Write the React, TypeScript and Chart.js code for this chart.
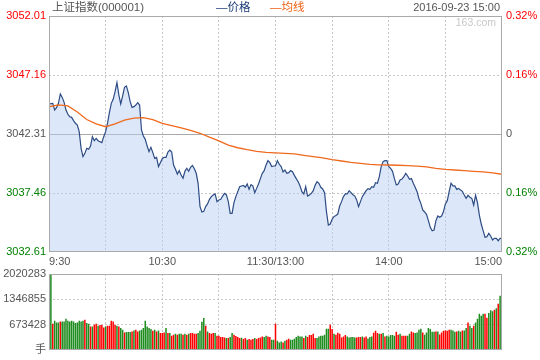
import React, { useEffect, useRef } from 'react';
import { Chart, registerables } from 'chart.js';

Chart.register(...registerables);

// ---------- data ----------
const TITLE = '上证指数(000001)';
const DATE_TEXT = '2016-09-23 15:00';
const PREV_CLOSE = 3042.31;
const PRICE_TICKS = [3032.61, 3037.46, 3042.31, 3047.16, 3052.01];
const PCT_TICKS = [-0.32, -0.16, 0, 0.16, 0.32];
const PCT_LABELS = ['0.32%', '0.16%', '0', '0.16%', '0.32%'];
const VOL_TICKS = [0, 673428, 1346855, 2020283];
const VOL_LABELS = ['手', '673428', '1346855', '2020283'];
const TIME_TICKS = [0, 30, 60, 90, 120, 150, 180, 210, 240];
const TIME_LABELS = ['9:30', '', '10:30', '', '11:30/13:00', '', '14:00', '', '15:00'];

// one value per minute, 9:30 .. 11:30 then 13:01 .. 15:00 (241 points)
const PRICES = [
  3044.78, 3044.80, 3044.83, 3044.28, 3044.47, 3044.83, 3045.60, 3045.32, 3044.91, 3044.28,
  3043.93, 3043.73, 3043.68, 3043.41, 3043.19, 3043.05, 3042.50, 3041.13, 3040.45, 3040.72,
  3041.13, 3041.05, 3041.32, 3042.09, 3041.76, 3041.95, 3041.76, 3041.68, 3041.60, 3042.09,
  3042.50, 3043.19, 3044.06, 3044.83, 3045.16, 3045.79, 3046.53, 3045.52, 3044.78, 3045.43,
  3046.15, 3046.26, 3045.71, 3044.97, 3044.50, 3044.56, 3044.69, 3044.89, 3044.69, 3042.64,
  3042.15, 3041.87, 3041.32, 3040.86, 3041.21, 3040.78, 3040.31, 3040.39, 3039.63, 3039.95,
  3040.28, 3040.39, 3040.39, 3040.83, 3040.99, 3040.83, 3039.76, 3039.41, 3039.02, 3039.30,
  3038.94, 3038.67, 3039.24, 3039.49, 3039.24, 3039.57, 3039.73, 3039.46, 3039.08, 3038.26,
  3036.34, 3035.90, 3035.95, 3036.34, 3036.56, 3036.94, 3037.16, 3037.30, 3037.38, 3036.75,
  3036.89, 3036.94, 3037.21, 3037.43, 3037.30, 3036.75, 3035.79, 3035.79, 3036.67, 3037.16,
  3037.57, 3037.98, 3038.04, 3038.09, 3037.93, 3038.20, 3037.76, 3038.15, 3038.04, 3037.49,
  3037.84, 3038.20, 3038.64, 3039.08, 3039.30, 3039.76, 3040.12, 3039.95, 3039.63, 3039.68,
  3039.68, 3040.12, 3039.82, 3039.63, 3039.19, 3039.35, 3039.08, 3039.13, 3039.30, 3039.21,
  3038.91, 3038.64, 3038.39, 3038.04, 3037.57, 3037.38, 3037.98, 3037.21, 3037.30, 3037.43,
  3037.65, 3038.09, 3038.39, 3038.26, 3037.93, 3037.79, 3037.49, 3035.93, 3034.83, 3034.91,
  3035.30, 3035.52, 3035.62, 3035.73, 3036.39, 3036.75, 3037.16, 3037.38, 3037.38, 3037.65,
  3037.49, 3037.32, 3037.21, 3036.89, 3036.34, 3036.75, 3037.16, 3037.41, 3037.65, 3037.82,
  3037.76, 3037.98, 3037.93, 3038.31, 3038.26, 3038.80, 3039.63, 3040.04, 3040.12, 3040.12,
  3039.63, 3039.49, 3039.24, 3038.64, 3038.12, 3038.20, 3038.53, 3038.61, 3038.80, 3039.08,
  3038.86, 3038.58, 3038.64, 3038.26, 3037.93, 3037.57, 3036.99, 3036.61, 3036.06, 3035.90,
  3035.71, 3035.19, 3034.64, 3034.36, 3034.42, 3035.19, 3035.57, 3035.46, 3035.57, 3035.93,
  3036.56, 3036.83, 3037.57, 3038.26, 3038.04, 3038.04, 3037.76, 3037.84, 3037.71, 3037.60,
  3037.30, 3037.02, 3037.27, 3037.10, 3037.02, 3036.47, 3037.27, 3036.67, 3035.65, 3034.91,
  3034.36, 3033.82, 3033.87, 3034.15, 3033.93, 3033.60, 3033.73, 3033.73, 3033.54, 3033.73,
  3033.73,
];

const AVG_MINUTES = [
  0, 5, 10, 15, 20, 25, 30, 35, 40, 45, 50, 55, 60, 65, 70, 75, 80, 85, 90, 95, 100, 105, 110, 115, 120,
  125, 130, 135, 140, 145, 150, 155, 160, 165, 170, 175, 180, 185, 190, 195, 200, 205, 210, 215, 220, 225, 230, 235, 240,
];
const AVG_PRICES = [
  3044.55, 3044.70, 3044.62, 3044.12, 3043.50, 3043.15, 3042.91, 3043.15, 3043.45, 3043.62, 3043.66, 3043.50, 3043.19,
  3043.00, 3042.82, 3042.60, 3042.37, 3042.05, 3041.75, 3041.40, 3041.18, 3041.02, 3040.88, 3040.80, 3040.76,
  3040.72, 3040.67, 3040.56, 3040.45, 3040.34, 3040.20, 3040.09, 3039.98, 3039.90, 3039.82, 3039.78, 3039.76, 3039.74,
  3039.71, 3039.67, 3039.60, 3039.49, 3039.40, 3039.35, 3039.30, 3039.24, 3039.19, 3039.11, 3039.00,
];

const VOLUMES = [
  608700, 2020283, 705800, 785200, 741000, 741000, 767500, 767500, 767500, 838100,
  785200, 767500, 785200, 767500, 723400, 741000, 785200, 767500, 785200, 811600,
  723400, 705800, 635200, 635200, 679300, 705800, 652800, 670500, 670500, 608700,
  635200, 652800, 652800, 785200, 767500, 679300, 652800, 635200, 591100, 547000,
  476400, 485200, 485200, 485200, 502900, 529300, 547000, 502900, 529300, 547000,
  591100, 785200, 635200, 591100, 564600, 520500, 547000, 502900, 529300, 458700,
  458700, 476400, 591100, 458700, 458700, 388200, 414600, 441100, 414600, 441100,
  441100, 414600, 441100, 414600, 441100, 458700, 458700, 441100, 441100, 458700,
  520500, 758700, 855700, 652800, 502900, 458700, 441100, 458700, 458700, 388200,
  388200, 352900, 352900, 344100, 326400, 326400, 352900, 458700, 414600, 379300,
  352900, 326400, 335200, 300000, 326400, 282300, 300000, 282300, 300000, 326400,
  300000, 326400, 344100, 370500, 352900, 388200, 370500, 352900, 282300, 282300,
  705800, 255800, 211700, 238200, 211700, 255800, 282300, 308800, 282300, 282300,
  308800, 352900, 388200, 370500, 370500, 326400, 388200, 352900, 405800, 405800,
  441100, 326400, 326400, 370500, 388200, 388200, 414600, 573400, 573400, 679300,
  564600, 441100, 414600, 467600, 441100, 344100, 370500, 405800, 370500, 344100,
  352900, 352900, 344100, 344100, 352900, 352900, 370500, 344100, 370500, 317600,
  352900, 370500, 467600, 520500, 458700, 441100, 441100, 458700, 370500, 388200,
  370500, 405800, 405800, 388200, 494000, 414600, 441100, 388200, 388200, 388200,
  388200, 441100, 502900, 476400, 458700, 476400, 547000, 573400, 476400, 414600,
  476400, 591100, 564600, 494000, 494000, 502900, 502900, 423500, 476400, 520500,
  529300, 520500, 547000, 547000, 529300, 494000, 502900, 520500, 494000, 529300,
  529300, 591100, 741000, 652800, 591100, 652800, 741000, 838100, 970400, 917500,
  970400, 970400, 864600, 988100, 1058600, 1032200, 1076300, 1111600, 1235100, 1446800,
  176400,
];
// 1 = up (red), 0 = down (green)
const VOLUME_UP = [
  1, 0, 1, 0, 0, 0, 1, 0, 0, 0,
  0, 0, 0, 0, 0, 0, 0, 0, 0, 1,
  0, 0, 1, 0, 1, 1, 0, 1, 1, 1,
  0, 1, 1, 1, 1, 1, 0, 1, 0, 0,
  1, 0, 0, 0, 1, 0, 1, 1, 0, 0,
  0, 0, 0, 0, 0, 1, 0, 1, 0, 1,
  1, 1, 0, 1, 0, 1, 1, 0, 1, 0,
  0, 1, 0, 1, 0, 1, 1, 1, 1, 0,
  0, 0, 0, 1, 0, 1, 1, 1, 0, 1,
  1, 1, 1, 1, 0, 1, 0, 0, 1, 1,
  1, 1, 0, 1, 1, 0, 1, 1, 1, 0,
  1, 1, 1, 1, 0, 0, 1, 1, 0, 0,
  1, 0, 0, 0, 1, 0, 1, 1, 0, 0,
  0, 0, 0, 0, 0, 1, 0, 1, 1, 1,
  1, 1, 0, 0, 0, 0, 0, 0, 0, 1,
  1, 0, 1, 1, 1, 1, 1, 1, 0, 0,
  0, 0, 0, 1, 1, 1, 0, 1, 1, 0,
  0, 0, 1, 1, 1, 0, 1, 0, 1, 0,
  0, 0, 0, 0, 1, 1, 0, 1, 1, 1,
  0, 0, 1, 1, 0, 0, 0, 0, 1, 0,
  0, 0, 0, 0, 0, 1, 0, 1, 1, 1,
  1, 1, 1, 0, 0, 0, 1, 0, 0, 1,
  0, 0, 1, 0, 0, 1, 0, 0, 0, 0,
  0, 1, 1, 0, 0, 0, 1, 0, 1, 0,
  1,
];

// ---------- style ----------
const FONT_FAMILY = '"Liberation Sans", Arial, "Noto Sans CJK SC", sans-serif';
const TICK_FONT = { family: FONT_FAMILY, size: 11 };
const GRID_COLOR = '#c8c8c8';
const GRID_DASH = [2, 2];
const FRAME_COLOR = '#aaaaaa';
const TEXT_GRAY = '#555555';
const UP_RED = '#ff0000';
const DOWN_GREEN = '#008000';
const W = 540;
const H = 360;

const framePlugin = {
  id: 'frame',
  afterDraw(chart: any) {
    const { ctx, chartArea } = chart;
    const l = Math.round(chartArea.left) + 0.5;
    const r = Math.round(chartArea.right) - 0.5;
    const t = Math.round(chartArea.top) + 0.5;
    const b = Math.round(chartArea.bottom) - 0.5;
    ctx.save();
    ctx.strokeStyle = FRAME_COLOR;
    ctx.lineWidth = 1;
    ctx.setLineDash([]);
    ctx.strokeRect(l, t, r - l, b - t);
    ctx.restore();
  },
};

const prevClosePlugin = {
  id: 'prevClose',
  beforeDatasetsDraw(chart: any) {
    const { ctx, chartArea } = chart;
    const y = Math.round(chart.scales.y.getPixelForValue(PREV_CLOSE)) + 0.5;
    ctx.save();
    ctx.strokeStyle = FRAME_COLOR;
    ctx.lineWidth = 1;
    ctx.beginPath();
    ctx.moveTo(chartArea.left, y);
    ctx.lineTo(chartArea.right, y);
    ctx.stroke();
    ctx.restore();
  },
};

const headerPlugin = {
  id: 'header',
  afterDraw(chart: any) {
    const { ctx } = chart;
    ctx.save();
    ctx.textBaseline = 'middle';
    ctx.font = `11.5px ${FONT_FAMILY}`;
    ctx.textAlign = 'left';
    ctx.fillStyle = TEXT_GRAY;
    ctx.fillText(TITLE, 52, 8);
    ctx.fillStyle = '#1f3e78';
    ctx.fillText('—价格', 216, 8);
    ctx.fillStyle = '#ee5f10';
    ctx.fillText('—均线', 270, 8);
    ctx.textAlign = 'right';
    ctx.fillStyle = TEXT_GRAY;
    ctx.font = `11px ${FONT_FAMILY}`;
    ctx.fillText(DATE_TEXT, 500, 8);
    ctx.fillStyle = '#c8c8c8';
    ctx.font = `10.5px ${FONT_FAMILY}`;
    ctx.fillText('163.com', 496, 23);
    ctx.restore();
  },
};

const timeGrid = {
  color: (c: any) =>
    c.tick && (c.tick.value === TIME_TICKS[0] || c.tick.value === TIME_TICKS[TIME_TICKS.length - 1])
      ? 'rgba(0,0,0,0)'
      : GRID_COLOR,
  drawTicks: false,
  offset: false,
  lineWidth: 1,
};

export default function App() {
  const priceRef = useRef<HTMLCanvasElement>(null);
  const volRef = useRef<HTMLCanvasElement>(null);

  useEffect(() => {
    const priceColors = [DOWN_GREEN, DOWN_GREEN, TEXT_GRAY, UP_RED, UP_RED];

    const priceChart = new Chart(priceRef.current as HTMLCanvasElement, {
      type: 'line',
      data: {
        datasets: [
          {
            label: '均线',
            data: AVG_MINUTES.map((m, i) => ({ x: m, y: AVG_PRICES[i] })),
            borderColor: '#f06a1e',
            borderWidth: 1.3,
            pointRadius: 0,
            fill: false,
            order: 0,
          },
          {
            label: '价格',
            data: PRICES.map((p, i) => ({ x: i, y: p })),
            borderColor: '#2d4c84',
            borderWidth: 1.2,
            pointRadius: 0,
            fill: 'start',
            backgroundColor: 'rgba(180,205,244,0.47)',
            order: 1,
          },
        ],
      },
      options: {
        responsive: false,
        animation: false,
        layout: { padding: { top: 16, left: 0, right: 0, bottom: 0 } },
        plugins: { legend: { display: false }, tooltip: { enabled: false } },
        scales: {
          x: {
            type: 'linear',
            min: 0,
            max: 240,
            afterBuildTicks: (s: any) => {
              s.ticks = TIME_TICKS.map((v) => ({ value: v }));
            },
            afterFit: (s: any) => {
              s.height = 108;
            },
            grid: timeGrid,
            border: { display: false, dash: GRID_DASH },
            ticks: {
              autoSkip: false,
              maxRotation: 0,
              align: 'inner',
              padding: 3,
              color: TEXT_GRAY,
              font: TICK_FONT,
              callback: (_v: any, i: number) => TIME_LABELS[i],
            },
          },
          y: {
            position: 'left',
            min: PRICE_TICKS[0],
            max: PRICE_TICKS[PRICE_TICKS.length - 1],
            afterBuildTicks: (s: any) => {
              s.ticks = PRICE_TICKS.map((v) => ({ value: v }));
            },
            afterFit: (s: any) => {
              s.width = 49;
            },
            grid: {
              color: (c: any) => (c.index === 1 || c.index === 3 ? GRID_COLOR : 'rgba(0,0,0,0)'),
              drawTicks: false,
            },
            border: { display: false, dash: GRID_DASH },
            ticks: {
              padding: 3,
              font: TICK_FONT,
              color: (c: any) => priceColors[c.index],
              callback: (v: any) => Number(v).toFixed(2),
            },
          },
          y2: {
            position: 'right',
            min: PCT_TICKS[0],
            max: PCT_TICKS[PCT_TICKS.length - 1],
            afterBuildTicks: (s: any) => {
              s.ticks = PCT_TICKS.map((v) => ({ value: v }));
            },
            afterFit: (s: any) => {
              s.width = 38;
            },
            grid: { display: false, drawTicks: false },
            border: { display: false },
            ticks: {
              padding: 4,
              font: TICK_FONT,
              color: (c: any) => priceColors[c.index],
              callback: (_v: any, i: number) => PCT_LABELS[i],
            },
          },
        },
      } as any,
      plugins: [prevClosePlugin, framePlugin, headerPlugin],
    });

    const volChart = new Chart(volRef.current as HTMLCanvasElement, {
      type: 'bar',
      data: {
        datasets: [
          {
            data: VOLUMES.map((v, i) => ({ x: i, y: v })),
            backgroundColor: VOLUME_UP.map((u) => (u ? UP_RED : '#1e8c1e')),
            borderWidth: 0,
            barPercentage: 0.8,
            categoryPercentage: 1,
          },
        ],
      },
      options: {
        responsive: false,
        animation: false,
        layout: { padding: { top: 274, left: 0, right: 38, bottom: 9 } },
        plugins: { legend: { display: false }, tooltip: { enabled: false } },
        scales: {
          x: {
            type: 'linear',
            min: 0,
            max: 240,
            offset: false,
            afterBuildTicks: (s: any) => {
              s.ticks = TIME_TICKS.map((v) => ({ value: v }));
            },
            grid: timeGrid,
            border: { display: false, dash: GRID_DASH },
            ticks: { display: false },
          },
          y: {
            position: 'left',
            min: 0,
            max: VOL_TICKS[VOL_TICKS.length - 1],
            afterBuildTicks: (s: any) => {
              s.ticks = VOL_TICKS.map((v) => ({ value: v }));
            },
            afterFit: (s: any) => {
              s.width = 49;
            },
            grid: {
              color: (c: any) => (c.index === 1 || c.index === 2 ? GRID_COLOR : 'rgba(0,0,0,0)'),
              drawTicks: false,
            },
            border: { display: false, dash: GRID_DASH },
            ticks: {
              padding: 3,
              font: TICK_FONT,
              color: TEXT_GRAY,
              callback: (_v: any, i: number) => VOL_LABELS[i],
            },
          },
        },
      } as any,
      plugins: [framePlugin],
    });

    return () => {
      priceChart.destroy();
      volChart.destroy();
    };
  }, []);

  const canvasStyle: React.CSSProperties = { position: 'fixed', left: 0, top: 0, width: W, height: H };
  return (
    <div style={{ position: 'relative', width: W, height: H }}>
      <canvas ref={priceRef} width={W} height={H} style={canvasStyle} />
      <canvas ref={volRef} width={W} height={H} style={canvasStyle} />
    </div>
  );
}
